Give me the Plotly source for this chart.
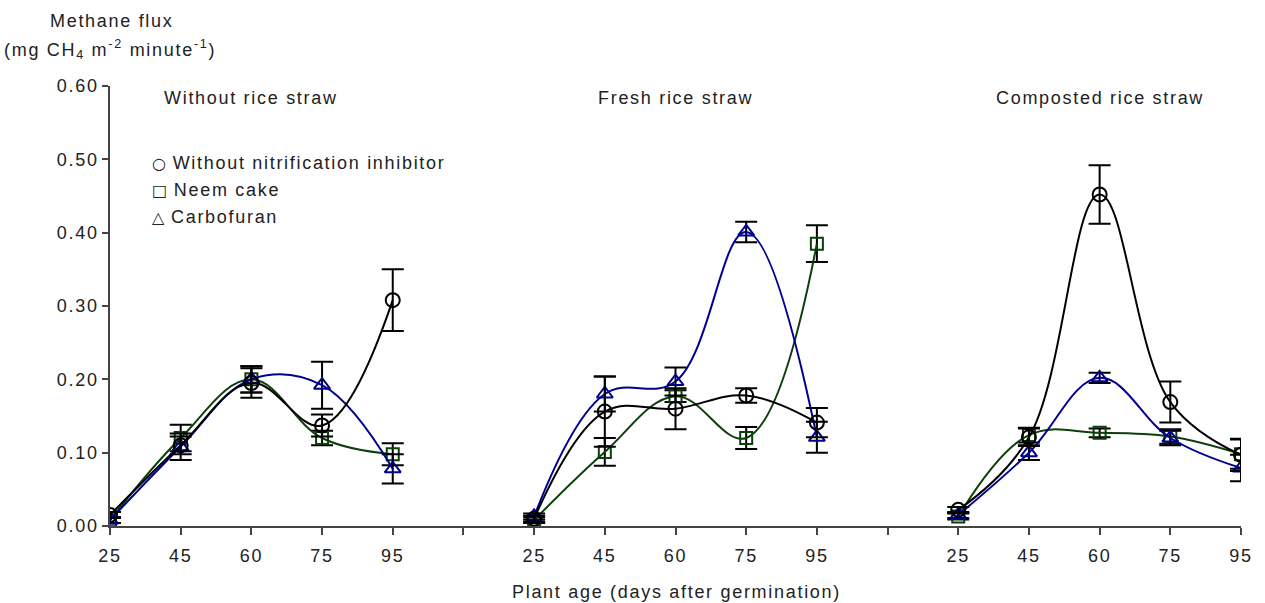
import plotly.graph_objects as go

# x positions: 3 groups of 5 plant ages, with an empty slot between groups
ages = ["25", "45", "60", "75", "95"]
tick_labels = ages + [""] + ages + [""] + ages
positions = list(range(len(tick_labels)))
group_titles = ["Without rice straw", "Fresh rice straw", "Composted rice straw"]

# Methane flux (mg CH4 m-2 min-1), per group: without / fresh / composted straw
no_inhib = [0.015, 0.110, 0.195, 0.137, 0.308,
            None,
            0.010, 0.156, 0.160, 0.178, 0.141,
            None,
            0.022, 0.121, 0.452, 0.169, 0.097]
no_inhib_err = [0.004, 0.012, 0.020, 0.015, 0.042,
                None,
                0.004, 0.048, 0.028, 0.010, 0.020,
                None,
                0.004, 0.012, 0.040, 0.028, 0.022]

neem = [0.008, 0.120, 0.200, 0.120, 0.098,
        None,
        0.008, 0.101, 0.177, 0.120, 0.385,
        None,
        0.013, 0.124, 0.127, 0.122, 0.098]
neem_err = [0.004, 0.018, 0.018, 0.010, 0.015,
            None,
            0.004, 0.019, 0.008, 0.015, 0.025,
            None,
            0.004, 0.010, 0.006, 0.010, 0.020]

carbo = [0.008, 0.108, 0.200, 0.192, 0.078,
         None,
         0.013, 0.180, 0.197, 0.401, 0.121,
         None,
         0.015, 0.100, 0.202, 0.120, 0.079]
carbo_err = [0.004, 0.018, 0.018, 0.032, 0.020,
             None,
             0.004, 0.024, 0.019, 0.014, 0.021,
             None,
             0.004, 0.010, 0.007, 0.010, 0.018]

y_ticks = [0.0, 0.1, 0.2, 0.3, 0.4, 0.5, 0.6]
y_tick_labels = ["0.00", "0.10", "0.20", "0.30", "0.40", "0.50", "0.60"]

legend_names = ["Without nitrification inhibitor", "Neem cake", "Carbofuran"]
legend_symbols = ["\u25cb", "\u25a1", "\u25b3"]

FONT = "Liberation Sans, Arial, sans-serif"
TXT = "#222222"
FS = 18
LS = "letter-spacing:1.7px"

# pixel frame of the plotting area
L, R, T, B = 110, 1244, 86, 526


def sp(s):
    return f'<span style="{LS}">{s}</span>'


def px_x(p):
    return (p - L) / (R - L)


def px_y(p):
    return (B - p) / (B - T)


series = [
    (neem, neem_err, "#0b400b", "square-open", 12),
    (carbo, carbo_err, "#00008f", "triangle-up-open", 14),
    (no_inhib, no_inhib_err, "#000000", "circle-open", 14),
]

fig = go.Figure()
for vals, errs, col, sym, size in series:
    fig.add_trace(go.Scatter(
        x=positions, y=vals, mode="lines+markers",
        line=dict(color=col, width=2, shape="spline", smoothing=1.1),
        marker=dict(symbol=sym, size=size, color=col, line=dict(color=col, width=2)),
        error_y=dict(type="data", array=errs, visible=True, color="black",
                     thickness=2, width=11),
        connectgaps=False, showlegend=False, hoverinfo="skip",
    ))

axis_common = dict(
    showline=True, linecolor="#444444", linewidth=1.5,
    ticks="outside", tickcolor="#444444", tickwidth=1.5,
    showgrid=False, zeroline=False,
    tickfont=dict(family=FONT, size=FS, color=TXT),
)

fig.update_layout(
    width=1265, height=603,
    margin=dict(l=L, r=1265 - R, t=T, b=603 - B),
    plot_bgcolor="white", paper_bgcolor="white",
    font=dict(family=FONT, size=FS, color=TXT),
    xaxis=dict(range=[0, 16], tickvals=positions,
               ticktext=[sp(t) for t in tick_labels], ticklen=7,
               ticklabelstandoff=6, **axis_common),
    yaxis=dict(range=[0, 0.6], tickvals=y_ticks,
               ticktext=[sp(t) for t in y_tick_labels], ticklen=6, **axis_common),
)

ann = []
ann.append(dict(xref="paper", yref="paper", x=px_x(112), y=px_y(21),
                text=sp("Methane flux"), showarrow=False,
                xanchor="center", yanchor="middle"))
ann.append(dict(xref="paper", yref="paper", x=px_x(110), y=px_y(49),
                text=sp("(mg CH<sub>4</sub> m<sup>-2</sup> minute<sup>-1</sup>)"),
                showarrow=False, xanchor="center", yanchor="middle"))

for i, t in enumerate(group_titles):
    ann.append(dict(xref="x", yref="paper", x=2 + 6 * i, y=px_y(98),
                    text=sp(t), showarrow=False, xanchor="center", yanchor="middle"))

for i, (s, n) in enumerate(zip(legend_symbols, legend_names)):
    txt = (f'<span style="font-family:DejaVu Sans;font-size:16px">{s}</span>'
           + sp(" " + n))
    ann.append(dict(xref="paper", yref="paper", x=px_x(150),
                    y=px_y(163 + 27 * i), text=txt, showarrow=False,
                    xanchor="left", yanchor="middle"))

ann.append(dict(xref="paper", yref="paper", x=px_x(678), y=px_y(592),
                text=sp("Plant age (days after germination)"), showarrow=False,
                xanchor="center", yanchor="middle"))
fig.update_layout(annotations=ann)

fig.write_html("out.html")
